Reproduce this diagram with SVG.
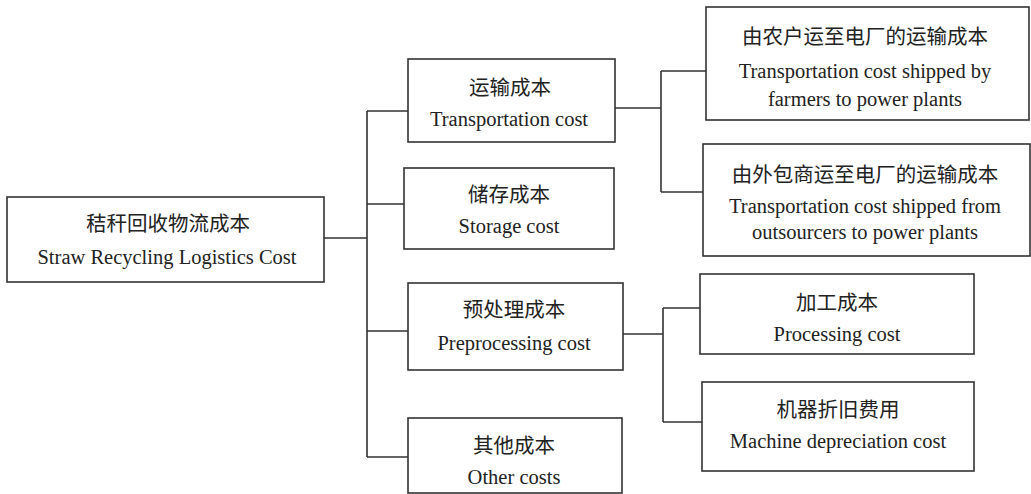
<svg xmlns="http://www.w3.org/2000/svg" width="1031" height="494" viewBox="0 0 1031 494">
<style>
.box{fill:#fff;stroke:#333;stroke-width:1.6}
.ln{fill:none;stroke:#333;stroke-width:1.6}
.zh{font-family:"Liberation Serif","Noto Sans CJK SC",serif;font-size:20.5px;fill:#222;text-anchor:middle}
.en{font-family:"Liberation Serif",serif;font-size:20.5px;fill:#222;text-anchor:middle}
</style>
<rect width="1031" height="494" fill="#fff"/>
<g id="connectors">
<path class="ln" d="M324 238H367M367 111V457M367 111H408M367 204H404M367 331H408M367 457H408"/>
<path class="ln" d="M615 108H661M661 71V192M661 71H706M661 192H703"/>
<path class="ln" d="M623 334H663M663 308V422M663 308H700M663 422H702"/>
</g>
<g id="root">
<rect class="box" x="7" y="197" width="317" height="85"/>
<text class="zh" x="168" y="231">秸秆回收物流成本</text>
<text class="en" x="167" y="264">Straw Recycling Logistics Cost</text>
</g>
<g id="transport">
<rect class="box" x="408" y="59" width="207" height="83"/>
<text class="zh" x="510" y="95">运输成本</text>
<text class="en" x="509" y="126">Transportation cost</text>
</g>
<g id="storage">
<rect class="box" x="404" y="168" width="210" height="81"/>
<text class="zh" x="509" y="202">储存成本</text>
<text class="en" x="509" y="233">Storage cost</text>
</g>
<g id="preprocessing">
<rect class="box" x="408" y="283" width="215" height="87"/>
<text class="zh" x="514" y="317">预处理成本</text>
<text class="en" x="514" y="350">Preprocessing cost</text>
</g>
<g id="other">
<rect class="box" x="408" y="418" width="214" height="75"/>
<text class="zh" x="514" y="453">其他成本</text>
<text class="en" x="514" y="484">Other costs</text>
</g>
<g id="farmers">
<rect class="box" x="706" y="7" width="323" height="113"/>
<text class="zh" x="865" y="44">由农户运至电厂的运输成本</text>
<text class="en" x="865" y="78">Transportation cost shipped by</text>
<text class="en" x="865" y="106">farmers to power plants</text>
</g>
<g id="outsourcers">
<rect class="box" x="703" y="144" width="327" height="112"/>
<text class="zh" x="865" y="182">由外包商运至电厂的运输成本</text>
<text class="en" x="865" y="213">Transportation cost shipped from</text>
<text class="en" x="865" y="239">outsourcers to power plants</text>
</g>
<g id="processing">
<rect class="box" x="700" y="274" width="274" height="80"/>
<text class="zh" x="837" y="310">加工成本</text>
<text class="en" x="837" y="341">Processing cost</text>
</g>
<g id="machine">
<rect class="box" x="702" y="382" width="272" height="89"/>
<text class="zh" x="838" y="417">机器折旧费用</text>
<text class="en" x="838" y="448">Machine depreciation cost</text>
</g>
</svg>
